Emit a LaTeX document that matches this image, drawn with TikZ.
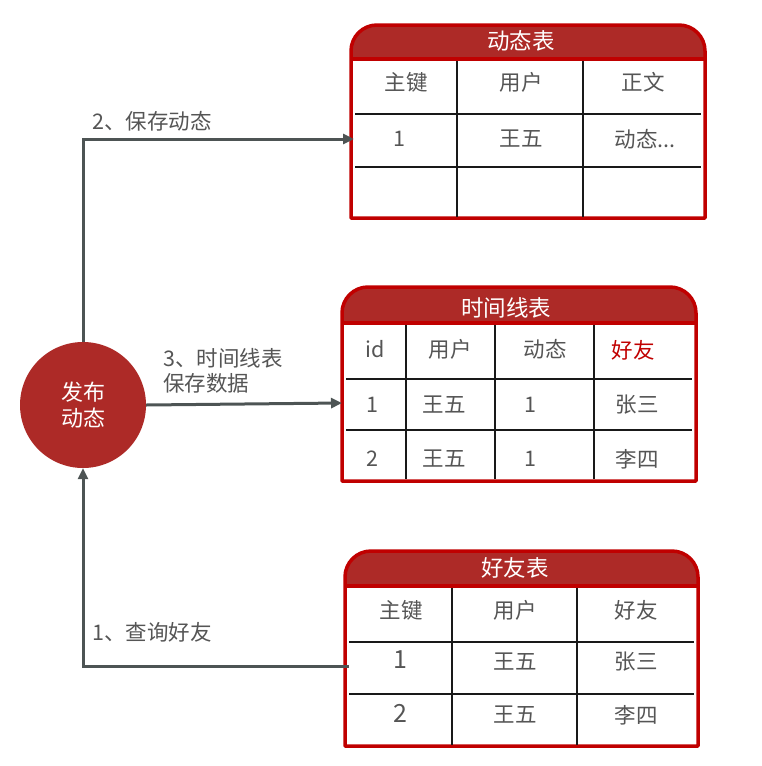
\documentclass[tikz,border=0pt]{standalone}
\usepackage{fontspec}
\setmainfont{Noto Sans CJK SC}
\usetikzlibrary{arrows.meta}
\definecolor{hdrred}{HTML}{AD2A27}
\definecolor{tblred}{HTML}{C00000}
\definecolor{arrgray}{HTML}{4D5454}
\definecolor{txtgray}{HTML}{555555}
\tikzset{
  tb/.style={draw=tblred, line width=3.5pt, line join=round},
  gridline/.style={draw=black!90, line width=2.2pt},
  cell/.style={text=txtgray, font=\fontsize{21.5}{25}\selectfont, inner sep=0pt},
  bigdigit/.style={cell, font=\fontsize{25}{28}\selectfont},
  hdrtext/.style={text=white, font=\fontsize{22.5}{26}\selectfont, inner sep=0pt},
  conn/.style={draw=arrgray, line width=3pt, -{Triangle[length=11pt,width=10pt]}},
  lbl/.style={text=txtgray, font=\fontsize{21.5}{25}\selectfont, anchor=west, inner sep=0pt, align=left},
}
\begin{document}
\begin{tikzpicture}[x=1pt,y=-1pt]
\useasboundingbox (0,0) rectangle (761,766);

% ---------- Table 1: 动态表 ----------
\fill[hdrred] (351,59) -- (351,51) arc[start angle=180,end angle=270,radius=26] -- (679,25) arc[start angle=270,end angle=360,radius=26] -- (705,59) -- cycle;
\draw[tb] (351,218) -- (351,51) arc[start angle=180,end angle=270,radius=26] -- (679,25) arc[start angle=270,end angle=360,radius=26] -- (705,218) -- cycle;
\draw[tb] (351,59) -- (705,59);
\draw[gridline] (355,114) -- (701,114);
\draw[gridline] (355,167) -- (701,167);
\draw[gridline] (457,61) -- (457,217);
\draw[gridline] (583,61) -- (583,217);
\node[hdrtext] (t1h) at (521,41) {动态表};
\node[cell] (t1a) at (406,82) {主键};
\node[cell] (t1b) at (521,82) {用户};
\node[cell] (t1c) at (643,82) {正文};
\node[cell] (t1d) at (399,139) {1};
\node[cell] (t1e) at (521,139) {王五};
\node[cell] (t1f) at (645,139) {动态...};
\coordinate (t1in) at (354,139);

% ---------- Table 2: 时间线表 ----------
\fill[hdrred] (342,323) -- (342,313) arc[start angle=180,end angle=270,radius=26] -- (670,287) arc[start angle=270,end angle=360,radius=26] -- (696,323) -- cycle;
\draw[tb] (342,481) -- (342,313) arc[start angle=180,end angle=270,radius=26] -- (670,287) arc[start angle=270,end angle=360,radius=26] -- (696,481) -- cycle;
\draw[tb] (342,323) -- (696,323);
\draw[gridline] (346,379) -- (692,379);
\draw[gridline] (346,430) -- (692,430);
\draw[gridline] (406,325) -- (406,479);
\draw[gridline] (495,325) -- (495,479);
\draw[gridline] (594,325) -- (594,479);
\node[hdrtext] (t2h) at (506,308) {时间线表};
\node[cell] (t2a) at (375,349) {id};
\node[cell] (t2b) at (450,349) {用户};
\node[cell] (t2c) at (545,349) {动态};
\node[cell, text=tblred] (t2d) at (633,350) {好友};
\node[cell] (t2e) at (372,405) {1};
\node[cell] (t2f) at (444,405) {王五};
\node[cell] (t2g) at (530,405) {1};
\node[cell] (t2i) at (637,405) {张三};
\node[cell] (t2j) at (372,459) {2};
\node[cell] (t2k) at (444,459) {王五};
\node[cell] (t2l) at (530,459) {1};
\node[cell] (t2m) at (637,459) {李四};
\coordinate (t2in) at (342,403);

% ---------- Table 3: 好友表 ----------
\fill[hdrred] (345,586) -- (345,577) arc[start angle=180,end angle=270,radius=26] -- (672,551) arc[start angle=270,end angle=360,radius=26] -- (698,586) -- cycle;
\draw[tb] (345,746) -- (345,577) arc[start angle=180,end angle=270,radius=26] -- (672,551) arc[start angle=270,end angle=360,radius=26] -- (698,746) -- cycle;
\draw[tb] (345,586) -- (698,586);
\draw[gridline] (349,642) -- (694,642);
\draw[gridline] (349,694) -- (694,694);
\draw[gridline] (452,588) -- (452,745);
\draw[gridline] (577,588) -- (577,745);
\node[hdrtext] (t3h) at (515,568) {好友表};
\node[cell] (t3a) at (401,610) {主键};
\node[cell] (t3b) at (515,610) {用户};
\node[cell] (t3c) at (636,610) {好友};
\node[bigdigit] (t3d) at (400,660) {1};
\node[cell] (t3e) at (515,662) {王五};
\node[cell] (t3f) at (636,662) {张三};
\node[bigdigit] (t3g) at (400,713) {2};
\node[cell] (t3i) at (515,715) {王五};
\node[cell] (t3j) at (636,715) {李四};
\coordinate (t3out) at (349,666);

% ---------- Circle ----------
\node[circle, fill=hdrred, minimum size=126pt, inner sep=0pt, text=white, align=center,
      font=\fontsize{22}{26}\selectfont] (pub) at (83,405) {发布\\动态};

% ---------- Connectors ----------
\draw[conn] (pub.north) |- (t1in);
\draw[conn] (pub.east) -- (t2in);
\draw[conn] (t3out) -| (pub.south);

% ---------- Labels ----------
\node[lbl] (l2) at (92,121) {2、保存动态};
\node[lbl] (l3) at (163,371) {3、时间线表\\保存数据};
\node[lbl] (l1) at (92,632) {1、查询好友};
\end{tikzpicture}
\end{document}
